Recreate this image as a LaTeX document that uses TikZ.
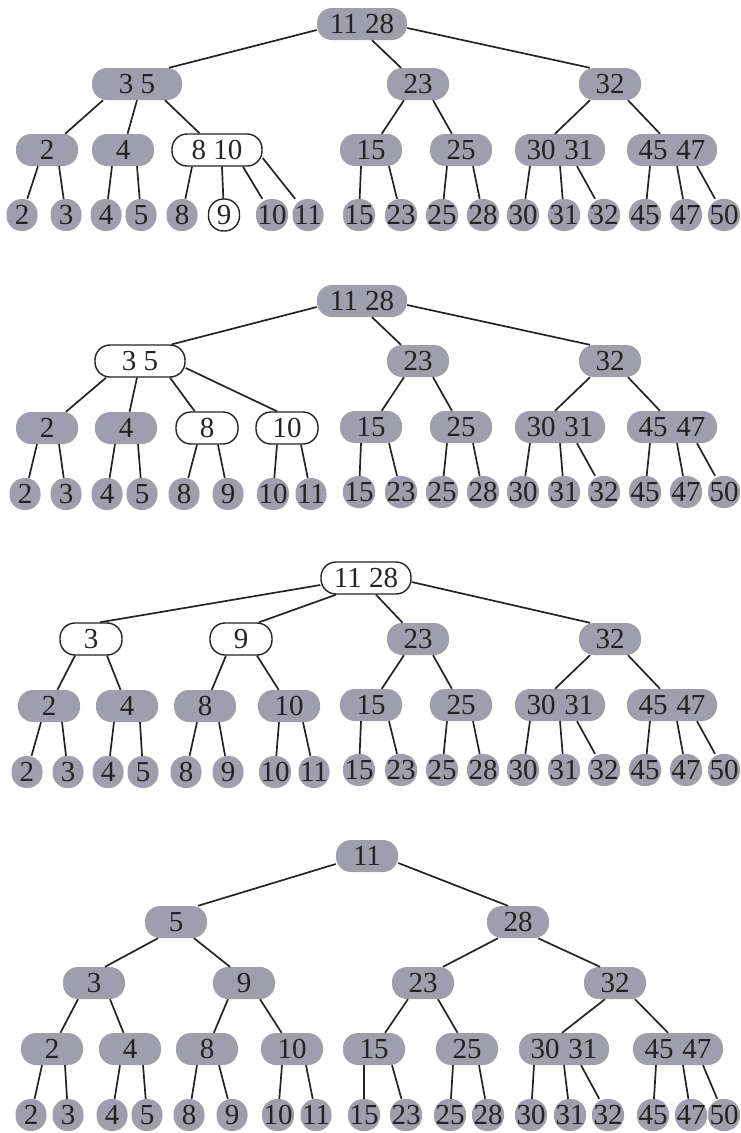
\documentclass[tikz,border=0pt]{standalone}
\usepackage{fontspec}
\setmainfont{Liberation Serif}
\definecolor{keygray}{RGB}{158,158,172}
\definecolor{ink}{RGB}{35,35,35}
\tikzset{
  key/.style={rectangle, rounded corners=15pt, fill=keygray, text=ink,
    minimum width=62pt, minimum height=32pt, inner sep=0pt,
    font=\fontsize{29}{34}\selectfont},
  wide/.style={minimum width=90pt},
  leaf/.style={key, minimum width=31pt, inner xsep=1.5pt},
  open/.style={fill=white, draw=ink, line width=1.4pt},
  link/.style={draw=ink, line width=1.7pt}
}
\newcommand{\gap}{\hspace{9pt}}

\begin{document}
\begin{tikzpicture}[x=1pt, y=-1pt]
\useasboundingbox (0,0) rectangle (741,1133);

% first tree
\node[key,wide] (a-r) at (362,24) {11~28};
\node[key,wide] (a-35) at (137,84) {3~5};
\node[key] (a-2) at (47,150) {2};
\node[key] (a-4) at (123,150) {4};
\node[key,wide,open] (a-810) at (217,150) {8~10};
\foreach \v/\x in {2/22,3/66,4/106,5/141,8/182,10/272,11/308}
  \node[leaf] (a-l\v) at (\x,215) {\v};
\node[leaf,open] (a-l9) at (224,215) {9};
\draw[link] ([yshift=-6]a-r.west) -- ([xshift=32]a-35.north);
\draw[link] ([xshift=-34]a-35.south) -- (a-2);
\draw[link] (a-35.south) -- (a-4);
\draw[link] ([xshift=28]a-35.south) -- (a-810);
\foreach \p/\c/\d in {2/2/-9,2/3/12,4/4/-11,4/5/14,810/8/-25,810/9/5,810/10/26}
  \draw[link] ([xshift=\d]a-\p.south) -- (a-l\c);
\draw[link] ([yshift=-8]a-810.east) -- (a-l11);

% second tree
\node[key,wide] (b-r) at (362,301) {11~28};
\node[key,wide,open] (b-35) at (140,361) {3~5};
\node[key] (b-2) at (47,428) {2};
\node[key] (b-4) at (126,428) {4};
\node[key,open] (b-8) at (207,428) {8};
\node[key,open] (b-10) at (287,428) {10};
\foreach \v/\x in {2/25,3/66,4/107,5/142,8/184,9/228,10/273,11/311}
  \node[leaf] (b-l\v) at (\x,494) {\v};
\draw[link] ([yshift=-6]b-r.west) -- ([xshift=32]b-35.north);
\draw[link] ([xshift=-34]b-35.south) -- (b-2);
\draw[link] ([xshift=-3]b-35.south) -- (b-4);
\draw[link] ([xshift=30]b-35.south) -- (b-8);
\draw[link] ([yshift=-7]b-35.east) -- ([xshift=-10]b-10.north);
\foreach \p/\c/\d in {2/2/-10,2/3/12,4/4/-11,4/5/12,8/8/-10,8/9/11,10/10/-10,10/11/14}
  \draw[link] ([xshift=\d]b-\p.south) -- (b-l\c);

% third tree
\node[key,wide,open] (c-r) at (366,578) {11~28};
\node[key,open] (c-3) at (91,639) {3};
\node[key,open] (c-9) at (241,639) {9};
\node[key] (c-2) at (49,706) {2};
\node[key] (c-4) at (127,706) {4};
\node[key] (c-8) at (205,706) {8};
\node[key] (c-10) at (289,706) {10};
\foreach \v/\x in {2/27,3/68,4/108,5/143,8/186,9/228,10/275,11/314}
  \node[leaf] (c-l\v) at (\x,772) {\v};
\draw[link] ([yshift=-7]c-r.west) -- ([xshift=9]c-3.north);
\draw[link] ([xshift=-30]c-r.south) -- ([xshift=18]c-9.north);
\draw[link] ([xshift=-16]c-3.south) -- (c-2);
\draw[link] ([xshift=16]c-3.south) -- (c-4);
\draw[link] ([xshift=-15]c-9.south) -- (c-8);
\draw[link] ([xshift=16]c-9.south) -- (c-10);
\foreach \p/\c/\d in {2/2/-8,2/3/13,4/4/-13,4/5/13,8/8/-8,8/9/14,10/10/-10,10/11/14}
  \draw[link] ([xshift=\d]c-\p.south) -- (c-l\c);

% right halves of the first three trees
\foreach \t/\dy in {a/0,b/277,c/555}{
  \node[key] (\t-23) at (418,{84+\dy}) {23};
  \node[key] (\t-32) at (610,{84+\dy}) {32};
  \node[key] (\t-15) at (371,{150+\dy}) {15};
  \node[key] (\t-25) at (461,{150+\dy}) {25};
  \node[key,wide] (\t-3031) at (560,{150+\dy}) {30\gap31};
  \node[key,wide] (\t-4547) at (672,{150+\dy}) {45\gap47};
  \foreach \v/\x in {15/359,23/401,25/442,28/483,30/523,31/564,32/604,45/645,47/686,50/724}
    \node[leaf] (\t-l\v) at (\x,{215+\dy}) {\v};
  \draw[link] ([xshift=10]\t-r.south) -- (\t-23);
  \draw[link] ([yshift=-4]\t-r.east) -- ([xshift=-20]\t-32.north);
  \draw[link] ([xshift=-14]\t-23.south) -- (\t-15);
  \draw[link] ([xshift=15]\t-23.south) -- (\t-25);
  \draw[link] ([xshift=-20]\t-32.south) -- ([xshift=-5]\t-3031.north);
  \draw[link] ([xshift=18]\t-32.south) -- ([xshift=-12]\t-4547.north);
  \foreach \p/\c/\d in {15/15/-10,15/23/18,25/25/-14,25/28/12,3031/30/-30,3031/31/0,3031/32/17,4547/45/-22,4547/47/5,4547/50/25}
    \draw[link] ([xshift=\d]\t-\p.south) -- (\t-l\c);
}

% fourth tree
\node[key] (d-r) at (367,856) {11};
\node[key] (d-5) at (176,922) {5};
\node[key] (d-28) at (518,922) {28};
\node[key] (d-3) at (94,983) {3};
\node[key] (d-9) at (244,983) {9};
\node[key] (d-23) at (423,983) {23};
\node[key] (d-32) at (615,983) {32};
\node[key] (d-2) at (52,1049) {2};
\node[key] (d-4) at (130,1049) {4};
\node[key] (d-8) at (207,1049) {8};
\node[key] (d-10) at (292,1049) {10};
\node[key] (d-15) at (374,1049) {15};
\node[key] (d-25) at (467,1049) {25};
\node[key,wide] (d-3031) at (564,1049) {30\gap31};
\node[key,wide] (d-4547) at (678,1049) {45\gap47};
\foreach \v/\x in {2/31,3/68,4/112,5/147,8/189,9/232,10/278,11/316,15/364,23/406,25/450,28/488,30/531,31/570,32/608,45/653,47/691,50/724}
  \node[leaf] (d-l\v) at (\x,1115) {\v};
\draw[link] ([yshift=-8]d-r.west) -- ([xshift=22]d-5.north);
\draw[link] ([yshift=-7]d-r.east) -- ([xshift=-10]d-28.north);
\draw[link] ([xshift=-18]d-5.south) -- ([xshift=11]d-3.north);
\draw[link] ([xshift=18]d-5.south) -- ([xshift=-14]d-9.north);
\draw[link] ([xshift=-20]d-28.south) -- ([xshift=20]d-23.north);
\draw[link] ([xshift=20]d-28.south) -- ([xshift=-15]d-32.north);
\draw[link] ([xshift=-16]d-3.south) -- (d-2);
\draw[link] ([xshift=16]d-3.south) -- (d-4);
\draw[link] ([xshift=-16]d-9.south) -- (d-8);
\draw[link] ([xshift=16]d-9.south) -- (d-10);
\draw[link] ([xshift=-15]d-23.south) -- (d-15);
\draw[link] ([xshift=15]d-23.south) -- (d-25);
\draw[link] ([xshift=-10]d-32.south) -- ([xshift=-2]d-3031.north);
\draw[link] ([xshift=20]d-32.south) -- ([xshift=-10]d-4547.north);
\foreach \p/\c/\d in {2/2/-10,2/3/13,4/4/-10,4/5/13,8/8/-10,8/9/12,10/10/-10,10/11/14,15/15/-10,15/23/18,25/25/-14,25/28/12,3031/30/-30,3031/31/0,3031/32/17,4547/45/-22,4547/47/5,4547/50/25}
  \draw[link] ([xshift=\d]d-\p.south) -- (d-l\c);
\end{tikzpicture}
\end{document}
